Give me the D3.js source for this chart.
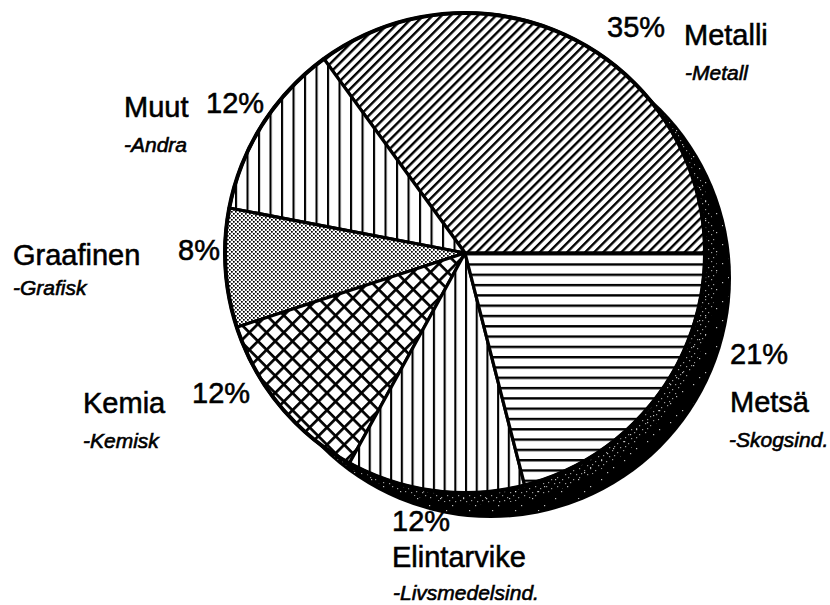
<!DOCTYPE html>
<html>
<head>
<meta charset="utf-8">
<script src="https://cdn.jsdelivr.net/npm/d3@7"></script>
<style>
  body { margin: 0; background: #fff; }
  text { font-family: "Liberation Sans", Arial, Helvetica, sans-serif; fill: #000; stroke: #000; stroke-width: 0.55; }
  .sub { font-style: italic; stroke-width: 0.6; }
</style>
</head>
<body>
<script>
// canvas
const width = 830;
const height = 605;

// data
const categories = ['Metalli', 'Muut', 'Graafinen', 'Kemia', 'Elintarvike', 'Metsä'];
const subLabels = ['-Metall', '-Andra', '-Grafisk', '-Kemisk', '-Livsmedelsind.', '-Skogsind.'];
const shares = [35, 12, 8, 12, 12, 21];
const pctLabels = ['35%', '12%', '8%', '12%', '12%', '21%'];

// label layout: [pct x, pct y, name x, name y, sub x, sub y]
const labelPos = [
  [607, 37, 684, 45, 685, 80],
  [206, 113, 124, 117, 124, 152],
  [178, 260, 13, 265, 13, 295],
  [192, 403, 83, 413, 83, 448],
  [392, 531, 392, 567, 393, 600],
  [730, 364, 730, 412, 729, 447]
];

const cx = 465;
const cy = 253;
const radius = 240;
const shadow = { dx: 26, dy: 25 };

const svg = d3.select('body')
  .append('svg')
  .attr('width', width)
  .attr('height', height);

const defs = svg.append('defs');

// line hatch: spacing, line width, rotation
function hatch(id, size, lw, angle) {
  const p = defs.append('pattern')
    .attr('id', id)
    .attr('patternUnits', 'userSpaceOnUse')
    .attr('width', size)
    .attr('height', size)
    .attr('patternTransform', 'rotate(' + angle + ')');
  p.append('rect').attr('width', size).attr('height', size).attr('fill', '#fff');
  p.append('rect').attr('x', 0).attr('y', 0).attr('width', lw).attr('height', size).attr('fill', '#000');
  return p;
}

hatch('p-diag', 6.4, 2.4, 45);      // Metalli
hatch('p-vert1', 11.5, 2.1, 0);     // Muut
hatch('p-vert2', 10.7, 2.1, 0);     // Elintarvike
hatch('p-horiz', 10.3, 2.4, 90);    // Metsä

// crosshatch
const cross = defs.append('pattern')
  .attr('id', 'p-cross')
  .attr('patternUnits', 'userSpaceOnUse')
  .attr('width', 12.2)
  .attr('height', 12.2)
  .attr('patternTransform', 'rotate(45)');
cross.append('rect').attr('width', 12.2).attr('height', 12.2).attr('fill', '#fff');
cross.append('rect').attr('width', 2.7).attr('height', 12.2).attr('fill', '#000');
cross.append('rect').attr('width', 12.2).attr('height', 2.7).attr('fill', '#000');

// stipple
const dots = defs.append('pattern')
  .attr('id', 'p-dots')
  .attr('patternUnits', 'userSpaceOnUse')
  .attr('width', 4)
  .attr('height', 4);
dots.append('rect').attr('width', 4).attr('height', 4).attr('fill', '#fff');
dots.append('rect').attr('x', 0).attr('y', 0).attr('width', 1.7).attr('height', 1.7).attr('fill', '#000');
dots.append('rect').attr('x', 2).attr('y', 2).attr('width', 1.7).attr('height', 1.7).attr('fill', '#000');

// speckle for the shadow (sparse and dense)
function speckle(id, w, h, pts) {
  const p = defs.append('pattern')
    .attr('id', id)
    .attr('patternUnits', 'userSpaceOnUse')
    .attr('width', w)
    .attr('height', h);
  pts.forEach(function(d) {
    p.append('rect')
      .attr('x', d[0]).attr('y', d[1])
      .attr('width', 1.2).attr('height', 1.2)
      .attr('fill', '#fff');
  });
}
speckle('p-speck1', 23, 19, [[3, 4], [15, 11], [9, 16]]);
speckle('p-speck2', 11, 9, [[1, 2], [7, 0], [4, 6], [9, 5]]);

const fillScale = d3.scaleOrdinal()
  .domain(categories)
  .range(['url(#p-diag)', 'url(#p-vert1)', 'url(#p-dots)', 'url(#p-cross)', 'url(#p-vert2)', 'url(#p-horiz)']);

// pie: starts at 3 o'clock, runs counter-clockwise
const pie = d3.pie()
  .sort(null)
  .value(function(d) { return d; })
  .startAngle(Math.PI / 2)
  .endAngle(Math.PI / 2 - 2 * Math.PI);

const arcs = pie(shares);

const arc = d3.arc()
  .innerRadius(0)
  .outerRadius(radius);

// shadow
defs.append('clipPath')
  .attr('id', 'shadow-clip')
  .append('circle')
  .attr('cx', cx + shadow.dx)
  .attr('cy', cy + shadow.dy)
  .attr('r', radius - 2);

svg.append('circle')
  .attr('cx', cx + shadow.dx)
  .attr('cy', cy + shadow.dy)
  .attr('r', radius)
  .attr('fill', '#000');

const specks = svg.append('g').attr('clip-path', 'url(#shadow-clip)');
specks.append('circle')
  .attr('cx', cx + shadow.dx)
  .attr('cy', cy + shadow.dy)
  .attr('r', radius)
  .attr('fill', 'url(#p-speck1)')
  .attr('opacity', 0.75);
specks.append('circle')
  .attr('cx', cx + shadow.dx * 0.45)
  .attr('cy', cy + shadow.dy * 0.45)
  .attr('r', radius)
  .attr('fill', 'url(#p-speck2)')
  .attr('opacity', 0.6);

// face
const face = svg.append('g')
  .attr('transform', 'translate(' + cx + ',' + cy + ')');

face.append('circle').attr('r', radius).attr('fill', '#fff');

face.selectAll('.slice')
  .data(arcs)
  .enter()
  .append('path')
  .attr('class', 'slice')
  .attr('d', arc)
  .attr('fill', function(d, i) { return fillScale(categories[i]); })
  .attr('stroke', '#000')
  .attr('stroke-width', 3.2)
  .attr('stroke-linejoin', 'round');

face.append('circle')
  .attr('r', radius)
  .attr('fill', 'none')
  .attr('stroke', '#000')
  .attr('stroke-width', 4);

// labels
const labels = svg.selectAll('.lab')
  .data(categories)
  .enter()
  .append('g')
  .attr('class', 'lab');

labels.append('text')
  .attr('x', function(d, i) { return labelPos[i][0]; })
  .attr('y', function(d, i) { return labelPos[i][1]; })
  .attr('font-size', 29)
  .text(function(d, i) { return pctLabels[i]; });

labels.append('text')
  .attr('x', function(d, i) { return labelPos[i][2]; })
  .attr('y', function(d, i) { return labelPos[i][3]; })
  .attr('font-size', 29)
  .text(function(d) { return d; });

labels.append('text')
  .attr('class', 'sub')
  .attr('x', function(d, i) { return labelPos[i][4]; })
  .attr('y', function(d, i) { return labelPos[i][5]; })
  .attr('font-size', 21)
  .text(function(d, i) { return subLabels[i]; });
</script>
</body>
</html>
